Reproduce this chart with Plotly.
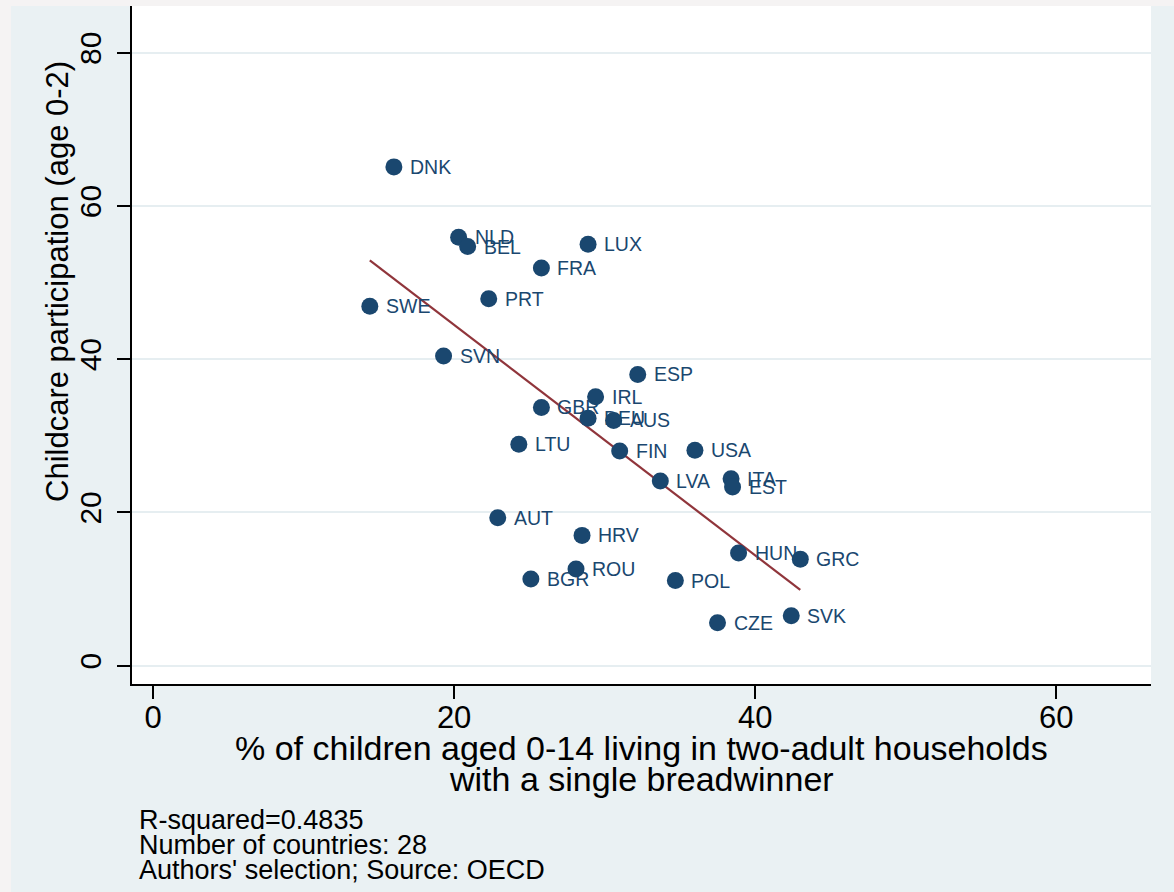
import numpy as np
import plotly.graph_objects as go

# Country codes and values
countries = ["DNK", "NLD", "BEL", "LUX", "FRA", "PRT", "SWE", "SVN", "ESP", "IRL",
             "GBR", "DEU", "AUS", "LTU", "FIN", "USA", "LVA", "ITA", "EST", "AUT",
             "HRV", "HUN", "GRC", "ROU", "BGR", "POL", "CZE", "SVK"]
single_breadwinner = [16.0, 20.3, 20.9, 28.9, 25.8, 22.3, 14.4, 19.3, 32.2, 29.4,
                      25.8, 28.9, 30.6, 24.3, 31.0, 36.0, 33.7, 38.4, 38.5, 22.9,
                      28.5, 38.9, 43.0, 28.1, 25.1, 34.7, 37.5, 42.4]
childcare = [65.1, 55.9, 54.7, 55.0, 51.9, 47.9, 46.9, 40.4, 38.0, 35.1,
             33.7, 32.3, 32.0, 28.9, 28.0, 28.1, 24.1, 24.4, 23.3, 19.3,
             17.0, 14.7, 13.9, 12.6, 11.3, 11.1, 5.6, 6.5]

x_ticks = [0, 20, 40, 60]
y_ticks = [0, 20, 40, 60, 80]

footnotes = ["R-squared=0.4835", "Number of countries: 28", "Authors' selection; Source: OECD"]

NAVY = "#1A476F"
MAROON = "#90353B"
REGION_BG = "#EAF1F3"
OUTER_BG = "#F5F3F3"
FONT = "Liberation Sans, Arial, Helvetica, sans-serif"

W, H = 1174, 892
ML, MR, MT, MB = 132, 23, 6, 208
PW, PH = W - ML - MR, H - MT - MB

# Linear fit over the observed range
xs = np.array(single_breadwinner)
ys = np.array(childcare)
slope, intercept = np.polyfit(xs, ys, 1)
fit_x = np.array([xs.min(), xs.max()])
fit_y = intercept + slope * fit_x

fig = go.Figure()
fig.add_trace(go.Scatter(
    x=fit_x, y=fit_y, mode="lines",
    line=dict(color=MAROON, width=2.2), hoverinfo="skip", showlegend=False))
fig.add_trace(go.Scatter(
    x=single_breadwinner, y=childcare, mode="markers",
    marker=dict(color=NAVY, size=17, line=dict(width=0)),
    text=countries, showlegend=False))

annotations = []
for c, xv, yv in zip(countries, single_breadwinner, childcare):
    annotations.append(dict(
        x=xv, y=yv, xref="x", yref="y", text=c, showarrow=False,
        xanchor="left", yanchor="middle", xshift=14,
        font=dict(family=FONT, size=19.5, color=NAVY)))

# Axis titles
annotations.append(dict(
    x=0.5, y=-(748 - (MT + PH)) / PH, xref="paper", yref="paper",
    text="% of children aged 0-14 living in two-adult households",
    showarrow=False, xanchor="center", yanchor="middle",
    font=dict(family=FONT, size=34, color="black")))
annotations.append(dict(
    x=0.5, y=-(779 - (MT + PH)) / PH, xref="paper", yref="paper",
    text="with a single breadwinner",
    showarrow=False, xanchor="center", yanchor="middle",
    font=dict(family=FONT, size=34, color="black")))
annotations.append(dict(
    x=(57 - ML) / PW, y=(MT + PH - 282) / PH, xref="paper", yref="paper",
    text="Childcare participation (age 0-2)", textangle=-90,
    showarrow=False, xanchor="center", yanchor="middle",
    font=dict(family=FONT, size=31, color="black")))

# Notes below the chart
for i, note in enumerate(footnotes):
    yc = 820 + 25 * i
    annotations.append(dict(
        x=(137 - ML) / PW, y=-(yc - (MT + PH)) / PH, xref="paper", yref="paper",
        text=note, showarrow=False, xanchor="left", yanchor="middle",
        font=dict(family=FONT, size=27, color="black")))

shapes = [
    # thin outer strips at the top and left edges
    dict(type="rect", xref="paper", yref="paper", layer="above",
         x0=-ML / PW, x1=(W - ML) / PW + 0.01, y0=1, y1=1 + MT / PH,
         fillcolor=OUTER_BG, line=dict(width=0)),
    dict(type="rect", xref="paper", yref="paper", layer="above",
         x0=-ML / PW - 0.01, x1=(11 - ML) / PW, y0=-MB / PH - 0.01, y1=1 + MT / PH,
         fillcolor=OUTER_BG, line=dict(width=0)),
]

fig.update_layout(
    width=W, height=H,
    margin=dict(l=ML, r=MR, t=MT, b=MB, pad=0),
    paper_bgcolor=REGION_BG, plot_bgcolor="white",
    font=dict(family=FONT, color="black"),
    annotations=annotations, shapes=shapes,
    showlegend=False,
    xaxis=dict(
        range=[-1.4, 66.3], tickvals=x_ticks, ticktext=[str(v) for v in x_ticks],
        showgrid=False, zeroline=False,
        showline=True, linecolor="black", linewidth=2,
        ticks="outside", ticklen=13, tickwidth=1.5, tickcolor="black",
        ticklabelstandoff=-8,
        tickfont=dict(family=FONT, size=31, color="black")),
    yaxis=dict(
        range=[-2.4, 86.1], tickvals=y_ticks, ticktext=[str(v) for v in y_ticks],
        showgrid=True, gridcolor="#E6EEF1", gridwidth=2, zeroline=False,
        showline=True, linecolor="black", linewidth=2,
        ticks="outside", ticklen=13, tickwidth=1.5, tickcolor="black",
        tickangle=-90, ticklabelstandoff=4,
        tickfont=dict(family=FONT, size=30, color="black")),
)

fig.write_html("out.html")
